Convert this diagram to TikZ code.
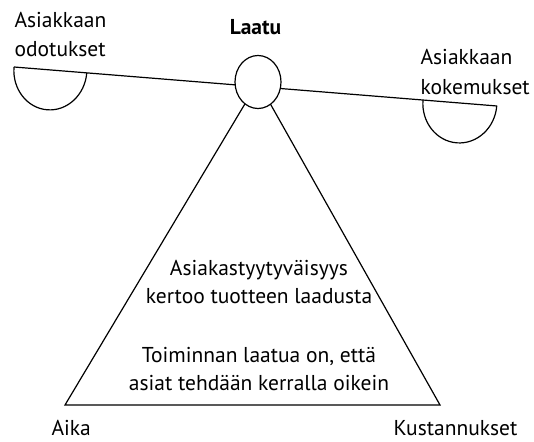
\documentclass[tikz,border=0pt]{standalone}
\usepackage{fontspec}
\setmainfont{PT Sans}
\usetikzlibrary{shapes.geometric}
\begin{document}
\begin{tikzpicture}[x=1pt,y=-1pt,line width=1.2pt,
  lbl/.style={inner sep=0pt,font=\fontsize{21.5}{29}\selectfont}]
\useasboundingbox (0,0) rectangle (534,441);
\coordinate (bl) at (65,405);
\coordinate (br) at (440,405);
\coordinate (beamL) at (14,67);
\coordinate (beamR) at (497,106);
\coordinate (panR) at (423,100);
\node (laatuc) [ellipse,minimum width=46pt,minimum height=53pt,inner sep=0pt] at (258,82) {};
\draw (laatuc.center) -- (bl) -- (br) -- cycle;
\draw (beamL) -- (beamR);
\draw[rotate around={-4.6:(beamL)}] (beamL) arc[start angle=180,end angle=0,x radius=36.5,y radius=40];
\draw[rotate around={-4.6:(panR)}] (panR) arc[start angle=180,end angle=0,x radius=37,y radius=40];
\node[draw,fill=white,ellipse,minimum width=46pt,minimum height=53pt,inner sep=0pt] at (laatuc.center) {};
\node[lbl,anchor=base west] (ao1) at (14,28) {Asiakkaan};
\node[lbl,anchor=base west] (ao2) at (14,57) {odotukset};
\node[lbl,anchor=base,font=\fontsize{21.5}{29}\selectfont\bfseries] (laatu) at (255.5,35) {Laatu};
\node[lbl,anchor=base west] (ak1) at (420,65) {Asiakkaan};
\node[lbl,anchor=base west] (ak2) at (420,94) {kokemukset};
\node[lbl,anchor=base] (t1) at (259,275) {Asiakastyytyväisyys};
\node[lbl,anchor=base] (t2) at (259,303) {kertoo tuotteen laadusta};
\node[lbl,anchor=base] (t3) at (259,362) {Toiminnan laatua on, että};
\node[lbl,anchor=base] (t4) at (259,390) {asiat tehdään kerralla oikein};
\node[lbl,anchor=base west] (aika) at (51,435) {Aika};
\node[lbl,anchor=base east] (kust) at (518,435) {Kustannukset};
\end{tikzpicture}
\end{document}
